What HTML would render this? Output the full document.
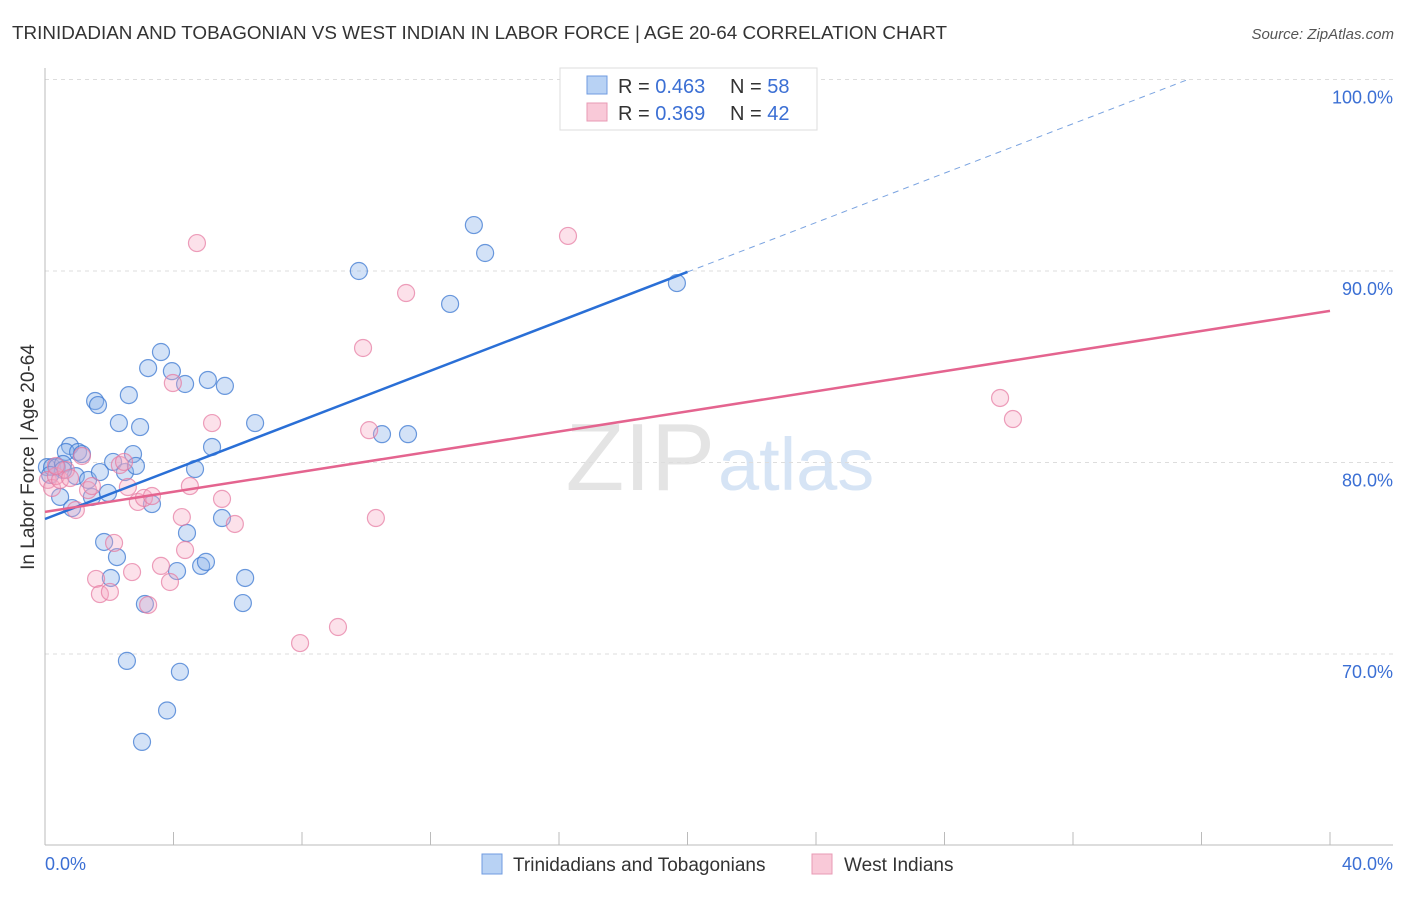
<!DOCTYPE html>
<html><head><meta charset="utf-8"><style>
body{margin:0;background:#fff;font-family:"Liberation Sans",sans-serif}
svg text{font-family:"Liberation Sans",sans-serif}
</style></head><body>
<svg id="c" width="1406" height="892">
<text x="12" y="39" font-size="18" fill="#333" textLength="935" lengthAdjust="spacingAndGlyphs">TRINIDADIAN AND TOBAGONIAN VS WEST INDIAN IN LABOR FORCE | AGE 20-64 CORRELATION CHART</text>
<text x="1394" y="39" font-size="15" fill="#555" font-style="italic" text-anchor="end">Source: ZipAtlas.com</text>
<text x="715" y="490" font-size="96" fill="#e4e4e4" text-anchor="end" font-family="Liberation Serif">ZIP</text>
<text x="718" y="490" font-size="74" fill="#d6e4f5">atlas</text>
<g id="grid"></g><g id="pts"></g><g id="lines"></g>
<text transform="translate(34,457) rotate(-90)" font-size="19" fill="#333" text-anchor="middle">In Labor Force | Age 20-64</text>
<text x="45" y="870" font-size="18" fill="#3b6fd4">0.0%</text>
<text x="1393" y="870" font-size="18" fill="#3b6fd4" text-anchor="end">40.0%</text>
<g>
<rect x="560" y="68" width="257" height="62" fill="#fff" stroke="#ddd"/>
<rect x="587" y="76" width="20" height="18" fill="#b8d2f4" stroke="#6f9be0"/>
<rect x="587" y="103" width="20" height="18" fill="#f9c9d8" stroke="#e89ab4"/>
<text x="618" y="93" font-size="20" fill="#333">R = <tspan fill="#3b6fd4">0.463</tspan></text>
<text x="730" y="93" font-size="20" fill="#333">N = <tspan fill="#3b6fd4">58</tspan></text>
<text x="618" y="120" font-size="20" fill="#333">R = <tspan fill="#3b6fd4">0.369</tspan></text>
<text x="730" y="120" font-size="20" fill="#333">N = <tspan fill="#3b6fd4">42</tspan></text>
</g>
<g>
<rect x="482" y="854" width="20" height="20" fill="#b8d2f4" stroke="#6f9be0"/>
<text x="513" y="871" font-size="19" fill="#333">Trinidadians and Tobagonians</text>
<rect x="812" y="854" width="20" height="20" fill="#f9c9d8" stroke="#e89ab4"/>
<text x="844" y="871" font-size="19" fill="#333">West Indians</text>
</g>
</svg>
<script>
const yTicks=[100,90,80,70];
const yTickLabels=["100.0%","90.0%","80.0%","70.0%"];
const blueX=[0.06,0.22,0.37,0.47,0.78,0.65,0.56,0.84,1.03,1.15,0.96,1.34,1.46,1.56,1.65,1.71,1.84,1.96,2.05,2.12,2.24,2.30,2.49,2.55,2.61,2.74,2.83,2.96,3.02,3.11,3.21,3.33,3.61,3.80,3.95,4.11,4.20,4.36,4.42,4.67,4.86,5.01,5.07,5.20,5.51,5.60,6.16,6.23,6.54,9.77,10.49,11.30,12.61,13.35,13.70,19.67,0.56,0.16];
const blueY=[79.76,79.76,79.76,78.20,80.86,80.55,79.92,77.62,80.55,80.44,79.29,79.09,78.20,83.21,83.00,79.50,75.85,78.41,73.97,80.03,75.06,82.06,79.50,69.64,83.52,80.44,79.82,81.85,65.41,72.61,84.93,77.83,85.77,67.05,84.77,74.33,69.07,84.10,76.32,79.66,74.60,74.81,84.31,80.81,77.10,84.00,72.66,73.97,82.06,90.00,81.48,81.48,88.28,92.40,90.94,89.37,79.61,79.35];
const pinkX=[0.09,0.22,0.34,0.47,0.65,0.78,0.96,1.15,1.34,1.46,1.59,1.71,2.02,2.15,2.33,2.46,2.58,2.71,2.89,3.08,3.21,3.33,3.61,3.89,3.98,4.26,4.36,4.51,4.73,5.20,5.51,5.91,7.94,9.12,9.90,10.09,10.30,11.24,16.28,29.73,30.13,0.34];
const pinkY=[79.09,78.67,79.29,79.09,79.61,79.19,77.52,80.34,78.56,78.77,73.92,73.13,73.24,75.80,79.87,80.03,78.72,74.28,77.94,78.15,72.56,78.25,74.60,73.76,84.15,77.15,75.43,78.77,91.46,82.06,78.10,76.79,70.57,71.41,85.98,81.69,77.10,88.85,91.83,83.37,82.27,79.82];
const blueLine=[77.05,0.645];
const pinkLine=[77.42,0.2625];
const NS="http://www.w3.org/2000/svg";
const X=v=>45+v/40*1285, Y=v=>79.5+(100-v)*19.15;
function mk(t,a,p){const e=document.createElementNS(NS,t);for(const k in a)e.setAttribute(k,a[k]);p.appendChild(e);return e;}
const g=document.getElementById('grid');
yTicks.forEach((t,i)=>{
 const l=mk('line',{x1:45,x2:1393,y1:Y(t),y2:Y(t),stroke:'#ddd','stroke-dasharray':'4,4'},g);
 
 
 const tx=mk('text',{x:1393,y:Y(t)+24,'font-size':18,fill:'#3b6fd4','text-anchor':'end'},g);
 tx.textContent=yTickLabels[i];
 
 
});
const ax=mk('line',{x1:45,x2:1393,y1:845,y2:845,stroke:'#bbb'},g);


const ay=mk('line',{x1:45,x2:45,y1:68,y2:845,stroke:'#bbb'},g);


for(let i=1;i<=10;i++){const t=mk('line',{x1:X(i*4),x2:X(i*4),y1:832,y2:845,stroke:'#bbb'},g);
 
 }
const p=document.getElementById('pts');
blueX.forEach((x,i)=>{const c=mk('circle',{cx:X(x),cy:Y(blueY[i]),r:8.5,fill:'rgba(140,180,235,0.38)',stroke:'rgba(60,120,210,0.75)','stroke-width':1.2},p);
 
 });
pinkX.forEach((x,i)=>{const c=mk('circle',{cx:X(x),cy:Y(pinkY[i]),r:8.5,fill:'rgba(245,170,195,0.35)',stroke:'rgba(230,120,160,0.7)','stroke-width':1.2},p);
 
 });
const L=document.getElementById('lines');
const bl=mk('line',{x1:X(0),y1:Y(blueLine[0]),x2:X(20),y2:Y(blueLine[0]+20*blueLine[1]),stroke:'#2a6fd6','stroke-width':2.5},L);


const xe=(100-blueLine[0])/blueLine[1];
const bd=mk('line',{x1:X(20),y1:Y(blueLine[0]+20*blueLine[1]),x2:X(xe),y2:Y(100),stroke:'#7aa3e0','stroke-width':1,'stroke-dasharray':'6,5'},L);


const pl=mk('line',{x1:X(0),y1:Y(pinkLine[0]),x2:X(40),y2:Y(pinkLine[0]+40*pinkLine[1]),stroke:'#e4648f','stroke-width':2.5},L);


</script>
</body></html>
